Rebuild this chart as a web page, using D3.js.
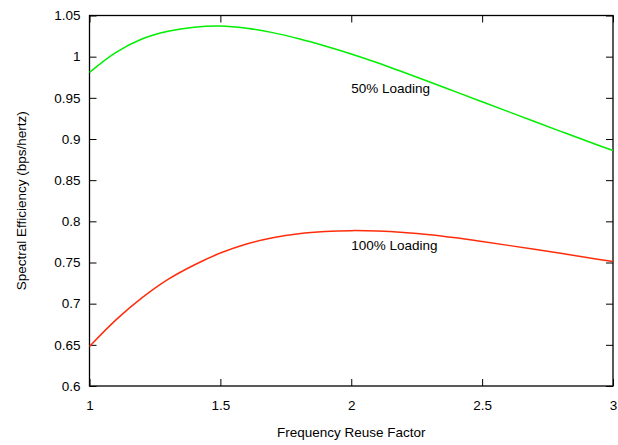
<!DOCTYPE html>
<html>
<head>
<meta charset="utf-8">
<script src="https://cdn.jsdelivr.net/npm/d3@7"></script>
<style>
  body { margin: 0; background: #fff; }
  text { font-family: "Liberation Sans", Arial, Helvetica, sans-serif; }
</style>
</head>
<body>
<div id="chart"></div>
<script>
// reuse factor values
var reuseFactor = [1.0, 1.1, 1.2, 1.3, 1.4, 1.5, 1.6, 1.7, 1.8, 1.9, 2.0,
                   2.1, 2.2, 2.3, 2.4, 2.5, 2.6, 2.7, 2.8, 2.9, 3.0];
var loading50 = [0.981, 1.005, 1.0215, 1.0308, 1.0358, 1.0372, 1.0345, 1.0292, 1.0218, 1.0130, 1.0033,
                 0.9926, 0.981, 0.9692, 0.9572, 0.9452, 0.9332, 0.9212, 0.9093, 0.8975, 0.886];
var loading100 = [0.648, 0.680, 0.707, 0.7295, 0.747, 0.7615, 0.7725, 0.780, 0.785, 0.7877, 0.7887,
                  0.7882, 0.7865, 0.7838, 0.780, 0.7755, 0.7708, 0.766, 0.7611, 0.7561, 0.7511];
var xTicks = [1, 1.5, 2, 2.5, 3];
var yTicks = [0.6, 0.65, 0.7, 0.75, 0.8, 0.85, 0.9, 0.95, 1, 1.05];

var width = 618, height = 445;
var margin = {top: 15.5, right: 5, bottom: 59, left: 89.5};
var plotW = width - margin.left - margin.right;
var plotH = height - margin.top - margin.bottom;
var fontSize = 13.5;

var svg = d3.select("#chart").append("svg")
    .attr("width", width)
    .attr("height", height);

var g = svg.append("g")
    .attr("transform", "translate(" + margin.left + "," + margin.top + ")");

var x = d3.scaleLinear().domain([1, 3]).range([0, plotW]);
var y = d3.scaleLinear().domain([0.6, 1.05]).range([plotH, 0]);

var fmt = d => String(d);

//axes with inward ticks, mirrored on the other side
g.append("g").attr("class", "axis")
    .attr("transform", "translate(0," + plotH + ")")
    .call(d3.axisBottom(x).tickValues(xTicks).tickSize(-7).tickPadding(14).tickFormat(fmt));
g.append("g").attr("class", "axis")
    .call(d3.axisTop(x).tickValues(xTicks).tickSize(-7).tickFormat(""));
g.append("g").attr("class", "axis")
    .call(d3.axisLeft(y).tickValues(yTicks).tickSize(-7).tickPadding(9).tickFormat(fmt));
g.append("g").attr("class", "axis")
    .attr("transform", "translate(" + plotW + ",0)")
    .call(d3.axisRight(y).tickValues(yTicks).tickSize(-7).tickFormat(""));

g.selectAll(".axis path").remove();
g.selectAll(".axis line").attr("stroke", "#000").attr("stroke-width", 1);
g.selectAll(".axis text").attr("font-size", fontSize).attr("fill", "#000")
    .style("font-family", "'Liberation Sans', Arial, sans-serif");

//frame
g.append("rect")
    .attr("width", plotW).attr("height", plotH)
    .attr("fill", "none").attr("stroke", "#000").attr("stroke-width", 1.3);

var line = d3.line().curve(d3.curveCatmullRom);

var series = [
    {name: "50% Loading", values: loading50, color: "#00ee00"},
    {name: "100% Loading", values: loading100, color: "#ff2d0a"}
];

g.selectAll(".series").data(series).enter().append("path")
    .attr("class", "series")
    .attr("fill", "none")
    .attr("stroke", d => d.color)
    .attr("stroke-width", 1.5)
    .attr("d", d => line(d.values.map((v, i) => [x(reuseFactor[i]), y(v)])));

//curve labels
g.append("text").attr("x", x(2)).attr("y", 93 - margin.top)
    .attr("font-size", fontSize).text("50% Loading");
g.append("text").attr("x", x(2)).attr("y", 249.5 - margin.top)
    .attr("font-size", fontSize).text("100% Loading");

//axis titles
svg.append("text")
    .attr("x", margin.left + plotW / 2).attr("y", 437)
    .attr("text-anchor", "middle").attr("font-size", fontSize)
    .text("Frequency Reuse Factor");
svg.append("text")
    .attr("transform", "translate(26," + (margin.top + plotH / 2) + ") rotate(-90)")
    .attr("text-anchor", "middle").attr("font-size", fontSize)
    .text("Spectral Efficiency (bps/hertz)");
</script>
</body>
</html>
